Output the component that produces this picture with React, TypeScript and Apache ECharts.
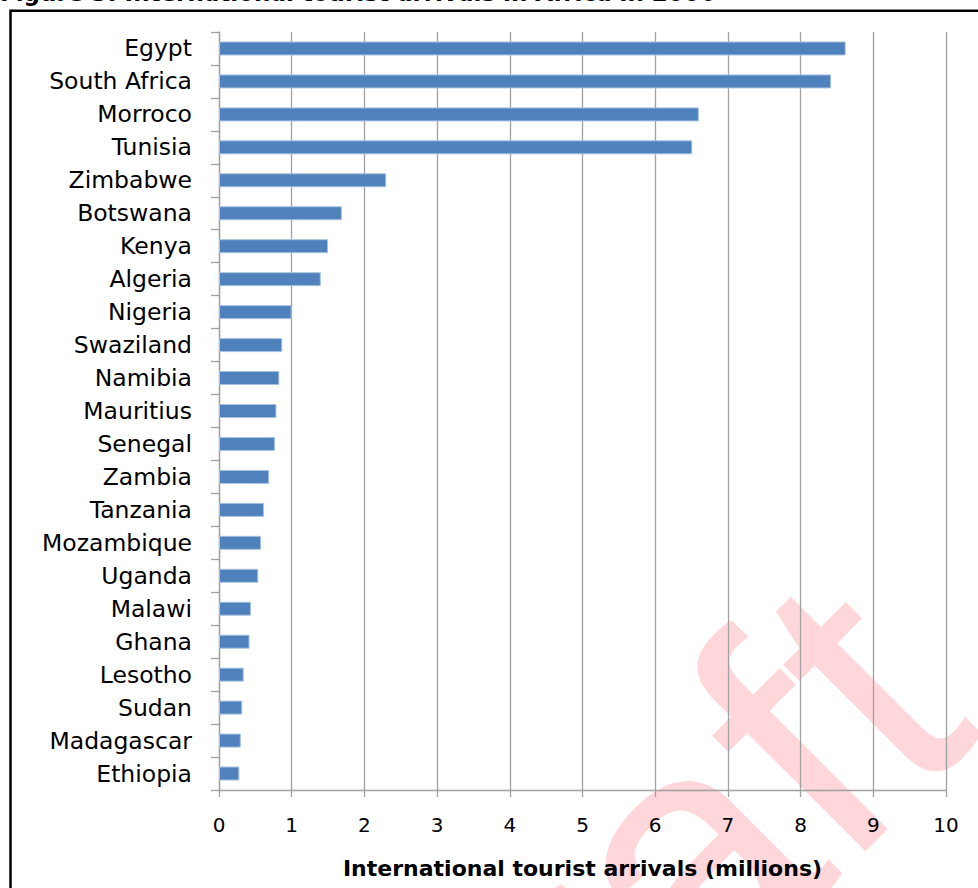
import React, { useEffect, useRef } from "react";
import * as echarts from "echarts";

const categories = [
  "Egypt", "South Africa", "Morroco", "Tunisia", "Zimbabwe", "Botswana", "Kenya",
  "Algeria", "Nigeria", "Swaziland", "Namibia", "Mauritius", "Senegal", "Zambia",
  "Tanzania", "Mozambique", "Uganda", "Malawi", "Ghana", "Lesotho", "Sudan",
  "Madagascar", "Ethiopia",
];
const arrivals = [
  8.62, 8.42, 6.6, 6.51, 2.3, 1.69, 1.5,
  1.4, 1.0, 0.87, 0.83, 0.79, 0.77, 0.69,
  0.62, 0.58, 0.54, 0.44, 0.42, 0.34, 0.32,
  0.3, 0.28,
];
const xTicks = { min: 0, max: 10, interval: 1 };
const titleText = "Figure 3: International tourist arrivals in Africa in 2006";
const axisTitle = "International tourist arrivals (millions)";
const watermark = "Draft";

export default function App() {
  const ref = useRef<HTMLDivElement>(null);
  useEffect(() => {
    if (!ref.current) return;
    const chart = echarts.init(ref.current, undefined, { renderer: "svg" });
    const gray = "#a0a0a0";
    chart.setOption({
      animation: false,
      backgroundColor: "#ffffff",
      grid: { left: 219, right: 32, top: 32, bottom: 98, containLabel: false },
      xAxis: {
        type: "value",
        min: xTicks.min,
        max: xTicks.max,
        interval: xTicks.interval,
        name: axisTitle,
        nameLocation: "middle",
        nameGap: 67,
        nameTextStyle: {
          fontFamily: "DejaVu Sans",
          fontWeight: "bold",
          fontSize: 22,
          color: "#000",
        },
        axisLine: { show: true, lineStyle: { color: gray, width: 1.3 } },
        axisTick: { show: true, length: 7, lineStyle: { color: gray, width: 1.3 } },
        axisLabel: {
          margin: 25,
          fontFamily: "DejaVu Sans",
          fontSize: 20,
          color: "#000",
        },
        splitLine: { show: true, lineStyle: { color: gray, width: 1.3 } },
      },
      yAxis: {
        type: "category",
        data: categories,
        inverse: true,
        axisLine: { show: true, lineStyle: { color: gray, width: 1.3 } },
        axisTick: { show: true, length: 8, lineStyle: { color: gray, width: 1.3 } },
        axisLabel: {
          margin: 27,
          fontFamily: "DejaVu Sans",
          fontSize: 23.5,
          color: "#000",
        },
        splitLine: { show: false },
      },
      series: [
        {
          type: "bar",
          data: arrivals,
          barWidth: 14,
          itemStyle: { color: "#4F81BD", borderColor: "#a9c2e0", borderWidth: 1 },
          z: 3,
        },
      ],
      graphic: [
        {
          type: "text",
          x: 896,
          y: 644,
          rotation: Math.PI / 4,
          z: -10,
          silent: true,
          style: {
            text: watermark,
            fontFamily: "Liberation Sans",
            fontSize: 360,
            fill: "#FFD6D9",
            align: "right",
            verticalAlign: "middle",
            textAlign: "right",
            textVerticalAlign: "middle",
          },
        },
        {
          type: "text",
          x: 0,
          y: 4,
          z: 10,
          style: {
            text: titleText,
            fontFamily: "DejaVu Sans",
            fontWeight: "bold",
            fontSize: 23,
            fill: "#000",
            align: "left",
            verticalAlign: "bottom",
            textAlign: "left",
            textVerticalAlign: "bottom",
          },
        },
        {
          type: "polyline",
          z: 10,
          shape: { points: [[10.5, 888], [10.5, 10.7], [978, 10.7]] },
          style: { stroke: "#000", lineWidth: 2.5, fill: null },
        },
      ],
    });
    return () => chart.dispose();
  }, []);
  return (
    <div
      ref={ref}
      style={{ position: "absolute", left: 0, top: 0, width: 978, height: 888 }}
    />
  );
}
